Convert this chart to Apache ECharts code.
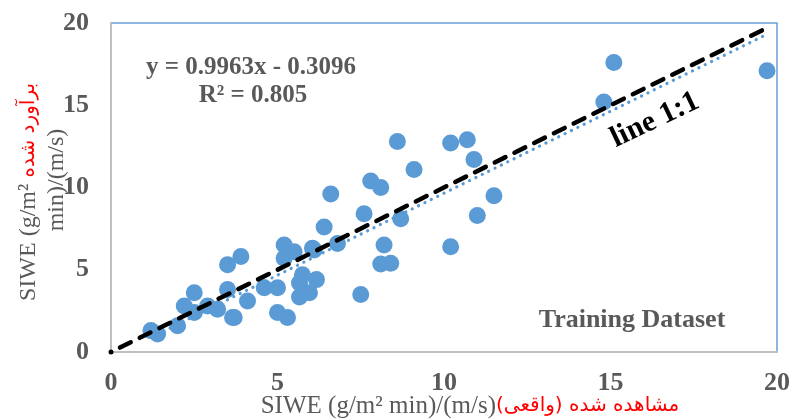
<!DOCTYPE html>
<html><head><meta charset="utf-8">
<script src="https://cdn.jsdelivr.net/npm/echarts@6/dist/echarts.min.js"></script>
<style>html,body{margin:0;padding:0;background:#fff}#c{width:793px;height:420px}</style>
</head><body><div id="c"></div>
<script>
// Observed SIWE (x) and estimated SIWE (y)
const observed = [1.2,1.4,2.0,2.2,2.5,2.5,2.9,3.2,3.5,3.5,3.7,3.65,3.9,4.1,4.6,5.0,5.0,5.3,5.2,5.2,5.5,5.66,5.66,5.75,5.96,6.17,6.05,6.1,6.4,6.6,6.8,7.6,7.5,7.8,8.1,8.2,8.1,8.4,8.7,8.6,9.1,10.2,10.2,10.7,10.9,11.0,11.5,14.8,15.1,19.7];
const estimated = [1.3,1.1,1.6,2.8,2.4,3.6,2.8,2.6,3.8,5.3,2.1,2.1,5.8,3.1,3.9,3.9,2.4,2.1,6.5,5.7,6.1,4.2,3.35,4.7,3.6,4.4,6.3,6.2,7.6,9.6,6.6,8.4,3.5,10.4,10.0,6.5,5.35,5.4,8.1,12.8,11.1,6.4,12.7,12.9,11.7,8.3,9.5,15.2,17.6,17.1];
const xTicks = [0,5,10,15,20];
const yTicks = [0,5,10,15,20];
const trendSlope = 0.9963, trendIntercept = -0.3096, rSquared = 0.805;
const oneToOne = [0,19.7];

const pts = observed.map((x,i)=>[x,estimated[i]]);
const xmin = Math.min(...observed), xmax = Math.max(...observed);
const trend = [[xmin, trendSlope*xmin+trendIntercept],[xmax, trendSlope*xmax+trendIntercept]];

const chart = echarts.init(document.getElementById('c'));
const serif = "'Liberation Serif','Times New Roman',serif";
const lbl = {color:'#595959',fontFamily:serif,fontWeight:'bold',fontSize:26};
chart.setOption({
  animation:false,
  grid:{left:111,right:14,top:23,bottom:68,show:true,borderColor:'#6a9fd8',borderWidth:1.5,backgroundColor:'transparent'},
  xAxis:{type:'value',min:0,max:20,interval:5,
    axisLine:{show:true,lineStyle:{color:'#bfbfbf',width:2}},axisTick:{show:false},splitLine:{show:false},
    axisLabel:Object.assign({margin:18},lbl)},
  yAxis:{type:'value',min:0,max:20,interval:5,
    axisLine:{show:true,lineStyle:{color:'#bfbfbf',width:2}},axisTick:{show:false},splitLine:{show:false},
    axisLabel:Object.assign({margin:22},lbl)},
  series:[
    {type:'scatter',data:pts,symbolSize:17,itemStyle:{color:'#5b9bd5',opacity:1},z:2},
    {type:'line',data:trend,symbol:'none',lineStyle:{color:'#5b9bd5',width:3.2,type:[0.1,7],cap:'round'},z:3},
    {type:'line',data:[{value:[oneToOne[0],oneToOne[0]],symbol:'circle',symbolSize:5},{value:[oneToOne[1],oneToOne[1]],symbol:'none'}],
      showSymbol:true,itemStyle:{color:'#000'},lineStyle:{color:'#000',width:4.5,type:[12,10],cap:'round',dashOffset:-10},z:4}
  ],
  graphic:[
    {type:'text',x:251,y:68,z:10,style:{text:'y = 0.9963x - 0.3096',font:"bold 25px "+serif,fill:'#595959',align:'center',verticalAlign:'middle'}},
    {type:'text',x:253,y:96,z:10,style:{text:'R² = '+rSquared,font:"bold 25px "+serif,fill:'#595959',align:'center',verticalAlign:'middle'}},
    {type:'text',x:655,y:120,rotation:0.445,z:10,style:{text:'line 1:1',font:"bold 30px "+serif,fill:'#000',align:'center',verticalAlign:'middle'}},
    {type:'text',x:632,y:320,z:10,style:{text:'Training Dataset',font:"bold 26px "+serif,fill:'#595959',align:'center',verticalAlign:'middle'}},
    {type:'text',x:470,y:406,z:10,style:{
      text:'{g|SIWE (g/m² min)/(m/s)}{r|(واقعی)}{s| }{r|مشاهده شده}',align:'center',verticalAlign:'middle',
      rich:{g:{font:"25px "+serif,fill:'#595959'},r:{font:"20px 'DejaVu Sans',sans-serif",fill:'#ff0000'},s:{font:"20px 'DejaVu Sans',sans-serif",fill:'#ff0000'}}}},
    {type:'text',x:29,y:192,rotation:Math.PI/2,z:10,style:{
      text:'{g|SIWE (g/m²}{s| }{r|برآورد شده}',align:'center',verticalAlign:'middle',
      rich:{g:{font:"24px "+serif,fill:'#595959'},r:{font:"20px 'DejaVu Sans',sans-serif",fill:'#ff0000'},s:{font:"20px 'DejaVu Sans',sans-serif",fill:'#ff0000'}}}},
    {type:'text',x:57,y:180,rotation:Math.PI/2,z:10,style:{text:'min)/(m/s)',font:"24px "+serif,fill:'#595959',align:'center',verticalAlign:'middle'}}
  ]
});
</script></body></html>
